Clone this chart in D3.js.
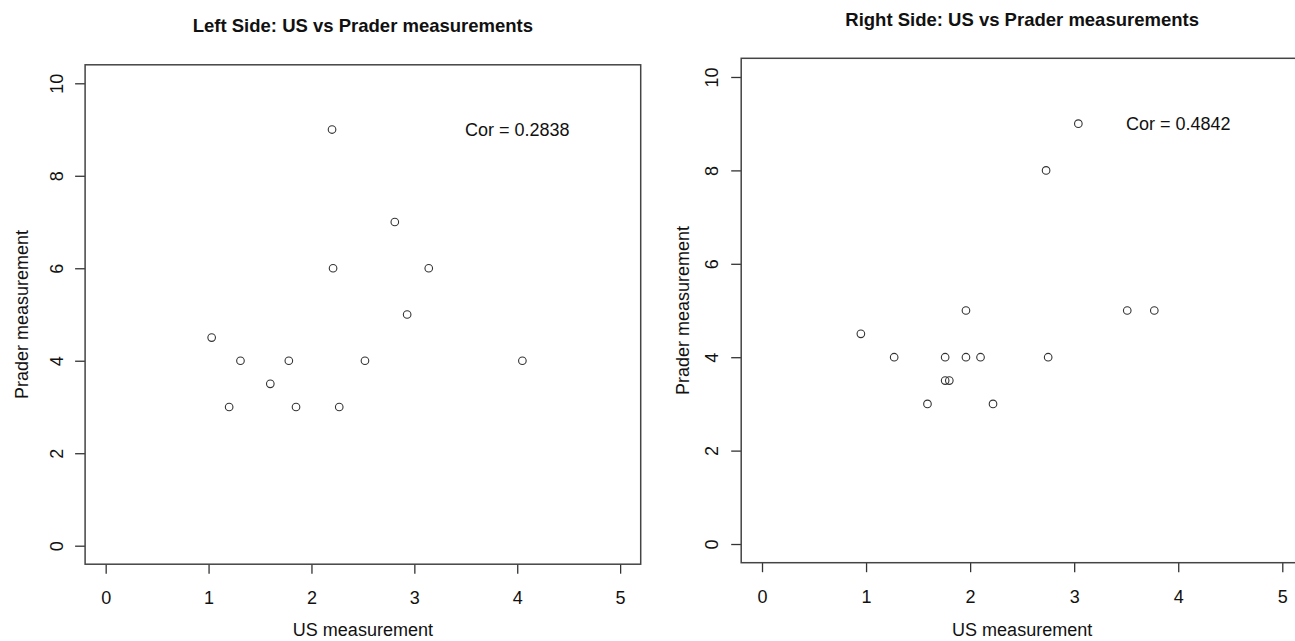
<!DOCTYPE html>
<html>
<head>
<meta charset="utf-8">
<script src="https://cdn.jsdelivr.net/npm/d3@7"></script>
<style>
  body { margin: 0; background: #fff; }
  svg { display: block; font-family: "Liberation Sans", Arial, sans-serif; }
</style>
</head>
<body>
<svg id="chart" width="1295" height="641"></svg>
<script>
// Data
const leftUS     = [2.20, 2.81, 2.21, 3.14, 2.93, 1.03, 1.31, 1.78, 2.52, 4.05, 1.60, 1.20, 1.85, 2.27];
const leftPrader = [9,    7,    6,    6,    5,    4.5,  4,    4,    4,    4,    3.5,  3,    3,    3];

const rightUS     = [3.04, 2.73, 1.96, 3.51, 3.77, 0.95, 1.27, 1.76, 1.96, 2.10, 2.75, 1.76, 1.80, 1.59, 2.22];
const rightPrader = [9,    8,    5,    5,    5,    4.5,  4,    4,    4,    4,    4,    3.5,  3.5,  3,    3];

const xTicks = [0, 1, 2, 3, 4, 5];
const yTicks = [0, 2, 4, 6, 8, 10];

const titles = ["Left Side: US vs Prader measurements", "Right Side: US vs Prader measurements"];
const corLabels = ["Cor = 0.2838", "Cor = 0.4842"];
const xLabel = "US measurement";
const yLabel = "Prader measurement";

// R style: 4% padding round the data range
const xDomain = [-0.2, 5.2];
const yDomain = [-0.4, 10.4];

const svg = d3.select("#chart");

// pixel layout of each panel (box edges and text offsets)
const panels = [
    { us: leftUS, prader: leftPrader, title: titles[0], cor: corLabels[0],
      left: 85.1, right: 640.7, top: 64.8, bottom: 564.2, titleY: 32, yTickX: 62.7, yLabX: 27.5 },
    { us: rightUS, prader: rightPrader, title: titles[1], cor: corLabels[1],
      left: 741.2, right: 1303.1, top: 58.3, bottom: 562.7, titleY: 25.5, yTickX: 718.3, yLabX: 689 }
];

panels.forEach(drawPanel);

function drawPanel(p) {
    const x = d3.scaleLinear().domain(xDomain).range([p.left, p.right]);
    const y = d3.scaleLinear().domain(yDomain).range([p.bottom, p.top]);
    const g = svg.append("g");
    const cx = (p.left + p.right) / 2;
    const cy = (p.top + p.bottom) / 2;

    // title
    g.append("text")
        .attr("x", cx)
        .attr("y", p.titleY)
        .attr("text-anchor", "middle")
        .attr("font-size", "18.5px")
        .attr("font-weight", "bold")
        .attr("fill", "#111")
        .text(p.title);

    // x axis
    const xAxis = g.append("g")
        .attr("transform", `translate(0,${p.bottom})`)
        .call(d3.axisBottom(x).tickValues(xTicks).tickSize(9.5).tickPadding(18).tickFormat(d3.format("d")));
    xAxis.select(".domain").remove();
    xAxis.selectAll(".tick line").attr("stroke", "#333").attr("stroke-width", 1.3);
    xAxis.selectAll(".tick text")
        .attr("font-size", "18px")
        .attr("font-family", "Liberation Sans, Arial, sans-serif")
        .attr("fill", "#111");

    // y axis (labels turned like R's default)
    const yAxis = g.append("g")
        .attr("transform", `translate(${p.left},0)`)
        .call(d3.axisLeft(y).tickValues(yTicks).tickSize(10).tickFormat(d3.format("d")));
    yAxis.select(".domain").remove();
    yAxis.selectAll(".tick line").attr("stroke", "#333").attr("stroke-width", 1.3);
    yAxis.selectAll(".tick text")
        .attr("x", null).attr("dy", null)
        .attr("transform", `translate(${p.yTickX - p.left},0) rotate(-90)`)
        .attr("text-anchor", "middle")
        .attr("font-size", "18px")
        .attr("font-family", "Liberation Sans, Arial, sans-serif")
        .attr("fill", "#111");

    // plot box
    g.append("rect")
        .attr("x", p.left)
        .attr("y", p.top)
        .attr("width", p.right - p.left)
        .attr("height", p.bottom - p.top)
        .attr("fill", "none")
        .attr("stroke", "#444")
        .attr("stroke-width", 1.5);

    // axis titles
    g.append("text")
        .attr("x", cx)
        .attr("y", 636)
        .attr("text-anchor", "middle")
        .attr("font-size", "18px")
        .attr("fill", "#111")
        .text(xLabel);

    g.append("text")
        .attr("transform", `translate(${p.yLabX},${cy}) rotate(-90)`)
        .attr("text-anchor", "middle")
        .attr("font-size", "18px")
        .attr("fill", "#111")
        .text(yLabel);

    // points
    g.selectAll("circle.pt")
        .data(p.us.map((u, i) => ({ us: u, pr: p.prader[i] })))
        .enter()
        .append("circle")
        .attr("class", "pt")
        .attr("cx", d => x(d.us))
        .attr("cy", d => y(d.pr))
        .attr("r", 3.8)
        .attr("fill", "none")
        .attr("stroke", "#333")
        .attr("stroke-width", 1.1);

    // correlation note
    g.append("text")
        .attr("x", x(4))
        .attr("y", y(9))
        .attr("dy", "0.35em")
        .attr("text-anchor", "middle")
        .attr("font-size", "18px")
        .attr("fill", "#111")
        .text(p.cor);
}
</script>
</body>
</html>
